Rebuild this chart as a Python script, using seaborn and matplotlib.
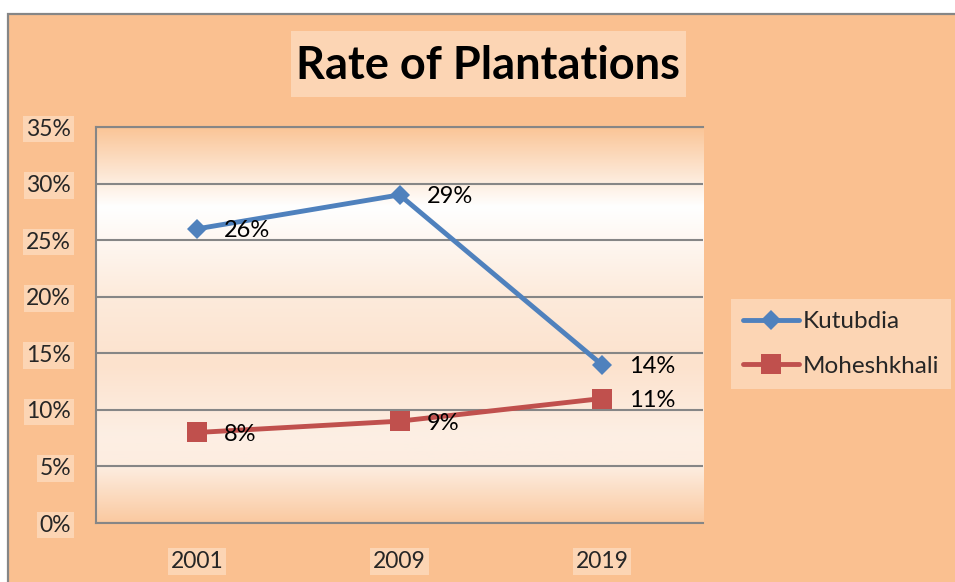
import numpy as np
import pandas as pd
import matplotlib
matplotlib.use("Agg")
import matplotlib.pyplot as plt
import seaborn as sns
from matplotlib.patches import Rectangle
from matplotlib.colors import LinearSegmentedColormap

# Plantation rates (%) per survey year
years = ["2001", "2009", "2019"]
kutubdia = [26, 29, 14]
moheshkhali = [8, 9, 11]
regions = ["Kutubdia", "Moheshkhali"]
y_ticks = [0, 5, 10, 15, 20, 25, 30, 35]
title = "Rate of Plantations"

PEACH = "#FAC090"
LIGHT = "#FCD5B4"
GRID = "#868686"
BLUE = "#4F81BD"
RED = "#C0504D"

df = pd.DataFrame({
    "Year": years * 2,
    "Rate": kutubdia + moheshkhali,
    "Region": [regions[0]] * len(years) + [regions[1]] * len(years),
})

sns.set_theme(style="white")
plt.rcParams["font.family"] = ["Lato", "DejaVu Sans"]

W, H = 955, 582
fig = plt.figure(figsize=(W / 100, H / 100), dpi=100, facecolor="white")

# chart area with grey frame
fig.patches.append(Rectangle((8 / W, -0.1), 1.2, 1.1 - 14 / H,
                             transform=fig.transFigure, facecolor=PEACH,
                             edgecolor=GRID, lw=1.6, zorder=-2))
# title box
fig.patches.append(Rectangle((291 / W, 1 - 97 / H), 395 / W, 66 / H,
                             transform=fig.transFigure, facecolor=LIGHT,
                             edgecolor="none", zorder=-1))
fig.text(488 / W, 1 - 66 / H, title, ha="center", va="center",
         fontsize=32.5, fontweight="bold", color="black", zorder=2)

ax = fig.add_axes([96 / W, 1 - 523 / H, (703 - 96) / W, (523 - 127) / H])
ax.set_facecolor("none")

# vertical gradient fill of the plot area (top row first)
grad = LinearSegmentedColormap.from_list(
    "plotfill",
    [(0.0, "#FAC597"), (0.2, "#FFFFFF"), (0.42, "#FDEBDC"), (0.6, "#FCE2CD"),
     (0.78, "#FDEFE4"), (0.86, "#FDEDE0"), (1.0, "#FAC9A0")])
ax.imshow(np.linspace(0, 1, 256).reshape(-1, 1), cmap=grad, aspect="auto",
          extent=[0, 1, 0, 1], transform=ax.transAxes, zorder=0,
          interpolation="bilinear")

sns.lineplot(data=df, x="Year", y="Rate", hue="Region", style="Region",
             palette={regions[0]: BLUE, regions[1]: RED},
             markers={regions[0]: "D", regions[1]: "s"}, dashes=False,
             sort=False, linewidth=3.5, markeredgewidth=0, ax=ax,
             zorder=3)
for line in ax.lines:
    if line.get_marker() == "D":
        line.set_markersize(10)
    else:
        line.set_markersize(14)

# value labels to the right of each point
for vals in (kutubdia, moheshkhali):
    for i, v in enumerate(vals):
        ax.annotate(f"{v}%", (i, v), xytext=(19.5, -1.5),
                    textcoords="offset points", ha="left", va="center",
                    fontsize=17, color="black", zorder=4)

ax.set_xlim(-0.5, len(years) - 0.5)
ax.set_ylim(0, 35)
ax.set_yticks(y_ticks)
ax.set_yticklabels([f"{t}%" for t in y_ticks])
ax.set_xlabel("")
ax.set_ylabel("")
ax.grid(axis="y", color=GRID, lw=1.5)
ax.grid(axis="x", visible=False)
ax.set_axisbelow(False)
for gl in ax.get_ygridlines():
    gl.set_zorder(1)
for sp in ax.spines.values():
    sp.set_color(GRID)
    sp.set_linewidth(1.5)
ax.spines["right"].set_visible(False)
ax.tick_params(axis="y", length=0, pad=18, labelsize=16.5)
ax.tick_params(axis="x", length=0, pad=20, labelsize=16.5)
for lab in ax.get_xticklabels() + ax.get_yticklabels():
    lab.set_bbox(dict(facecolor=LIGHT, edgecolor="none", pad=2))

handles, labels = ax.get_legend_handles_labels()
for h in handles:
    h.set_linewidth(3.5)
leg = ax.legend(handles, labels, loc="center left",
                bbox_to_anchor=(731 / W, 1 - 344 / H),
                bbox_transform=fig.transFigure, fontsize=17.5, frameon=True,
                fancybox=False, handlelength=2.3, handletextpad=0.15,
                labelspacing=0.95, borderpad=0.5, borderaxespad=0)
leg.get_frame().set_facecolor(LIGHT)
leg.get_frame().set_edgecolor("none")
leg.get_frame().set_alpha(1)

fig.savefig("out.png", dpi=100, facecolor="white")
